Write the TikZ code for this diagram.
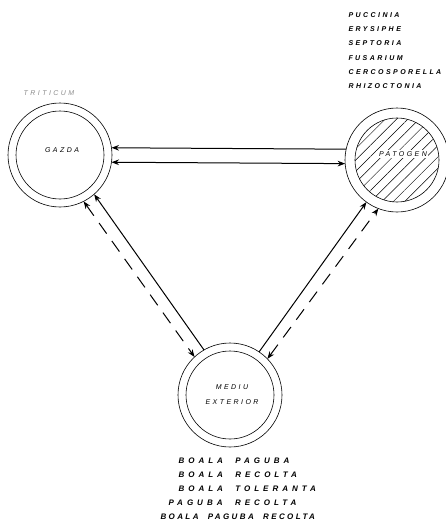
\documentclass[tikz,border=0pt]{standalone}
\usepackage{fontspec}
\newfontfamily\scanfont[LetterSpace=35]{Liberation Sans}
\newfontfamily\scanlarg[LetterSpace=50,WordSpace=2]{Liberation Sans}
\usetikzlibrary{arrows.meta,patterns.meta}

\tikzset{
  zona/.style={circle, draw, line width=0.6pt, minimum size=104pt, inner sep=0pt, outer sep=0pt},
  eticheta/.style={font=\scanfont\itshape\fontsize{7}{8}\selectfont, inner sep=0pt},
  lista/.style={font=\scanfont\bfseries\itshape\fontsize{7}{8}\selectfont, anchor=west, inner sep=0pt},
  boala/.style={font=\scanlarg\bfseries\itshape\fontsize{8}{9}\selectfont, anchor=west, inner sep=0pt},
  intrerupt/.style={dash pattern=on 13pt off 9pt}
}

\begin{document}
\begin{tikzpicture}[x=1pt, y=-1pt, >=Stealth, line width=1pt]
  \useasboundingbox (0,0) rectangle (446,527);
  % cercurile
  \node[zona] (gazda) at (60,155) {};
  \node[zona] (patogen) at (397,160) {};
  \node[zona] (mediu) at (230,395) {};
  \draw[line width=0.6pt] (gazda.center) circle[radius=44pt];
  \draw[line width=0.6pt] (mediu.center) circle[radius=44pt];
  \begin{scope}
    \clip (patogen.center) circle[radius=42pt];
    \fill[pattern={Lines[angle=45,distance=8pt,line width=0.5pt]}] (patogen.center) circle[radius=42pt];
  \end{scope}
  \draw[line width=0.6pt] (patogen.center) circle[radius=42pt];
  % textele din cercuri
  \node[eticheta] (tgazda) at (62,150) {GAZDA};
  \node[eticheta, fill=white, inner sep=1.5pt] (tpatogen) at (403,154) {PATOGEN};
  \node[eticheta] (tmediu) at (232,387) {MEDIU};
  \node[eticheta] (texterior) at (232,402) {EXTERIOR};
  \node[eticheta, text=black!45] (tgazda2) at (49,93) {TRITICUM};
  % patogenii
  \foreach \nume [count=\i] in {PUCCINIA, ERYSIPHE, SEPTORIA, FUSARIUM, CERCOSPORELLA, RHIZOCTONIA}
    \node[lista] (pat\i) at (348,{15+14.2*(\i-1)}) {\nume};
  % relatiile
  \node[boala] (r1) at (178,461) {BOALA PAGUBA};
  \node[boala] (r2) at (178,475) {BOALA RECOLTA};
  \node[boala] (r3) at (178,489) {BOALA TOLERANTA};
  \node[boala] (r4) at (168,503) {PAGUBA RECOLTA};
  \node[boala] (r5) at (160,517) {\addfontfeatures{LetterSpace=30}BOALA PAGUBA RECOLTA};
  % sagetile
  \draw[-{Stealth[open]}] (patogen.168) -- (gazda.8);
  \draw[<->] (gazda.-8) -- (patogen.184);
  \draw[->] (mediu.120) -- (gazda.-49);
  \draw[<->, intrerupt] (gazda.-63) -- (mediu.133);
  \draw[->] (mediu.56) -- (patogen.234);
  \draw[<->, intrerupt] (mediu.44) -- (patogen.249);
\end{tikzpicture}
\end{document}
